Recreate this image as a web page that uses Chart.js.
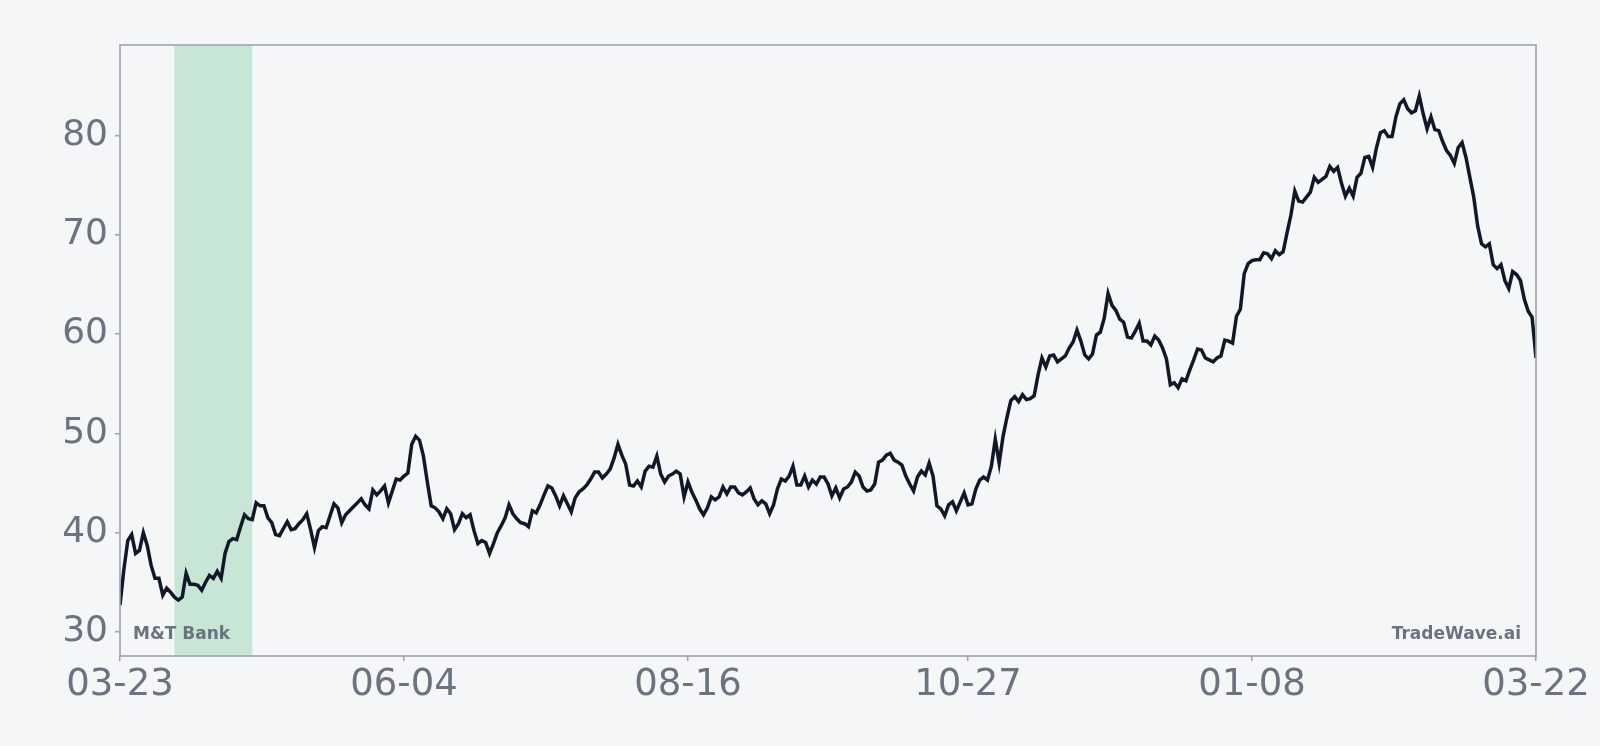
<!DOCTYPE html>
<html>
<head>
<meta charset="utf-8">
<title>M&amp;T Bank</title>
<script src="https://cdn.jsdelivr.net/npm/chart.js@4/dist/chart.umd.min.js"></script>
<style>
    html, body { margin: 0; padding: 0; background: #f4f6f8; }
    #wrap { width: 1600px; height: 746px; position: relative; }
</style>
</head>
<body>
<div id="wrap"><canvas id="price-chart"></canvas></div>
<script>
// 数据
const seriesName = 'M&T Bank';
const brandName = 'TradeWave.ai';
const tickDays = [0, 73, 146, 218, 291, 364];
const tickLabels = ['03-23', '06-04', '08-16', '10-27', '01-08', '03-22'];
const yTicks = [30, 40, 50, 60, 70, 80];
const shadeDays = [14, 34];

// 每日收盘价 (day 0 = 03-23)
const closes = [
    32.7, 36.3, 39.2, 39.8, 37.9, 38.2, 40.0, 38.7, 36.7, 35.4,
    35.4, 33.7, 34.4, 34.0, 33.5, 33.2, 33.5, 35.9, 34.8, 34.8,
    34.7, 34.2, 35.0, 35.7, 35.4, 36.1, 35.4, 37.9, 39.1, 39.4,
    39.3, 40.6, 41.8, 41.4, 41.3, 43.0, 42.7, 42.7, 41.5, 41.0,
    39.8, 39.7, 40.4, 41.1, 40.3, 40.4, 40.9, 41.3, 41.9, 40.3,
    38.5, 40.2, 40.6, 40.5, 41.7, 42.9, 42.5, 41.0, 41.8, 42.2,
    42.6, 43.0, 43.4, 42.8, 42.4, 44.3, 43.8, 44.2, 44.7, 43.0,
    44.2, 45.4, 45.3, 45.7, 46.0, 48.9, 49.7, 49.3, 47.7, 45.1,
    42.7, 42.5, 42.1, 41.4, 42.4, 41.9, 40.3, 40.9, 41.9, 41.5,
    41.8, 40.2, 38.9, 39.2, 39.0, 37.9, 38.9, 40.0, 40.7, 41.5,
    42.8, 41.9, 41.4, 41.0, 40.9, 40.6, 42.2, 42.0, 42.8, 43.8,
    44.7, 44.5, 43.7, 42.7, 43.7, 42.9, 42.1, 43.5, 44.1, 44.4,
    44.8, 45.4, 46.1, 46.1, 45.5, 45.9, 46.4, 47.5, 48.9, 47.8,
    46.9, 44.8, 44.7, 45.2, 44.6, 46.2, 46.7, 46.6, 47.7, 45.9,
    45.1, 45.7, 45.9, 46.2, 45.9, 43.6, 45.1, 44.1, 43.3, 42.4,
    41.8, 42.5, 43.6, 43.3, 43.6, 44.6, 43.9, 44.6, 44.6, 44.0,
    43.8, 44.1, 44.5, 43.4, 42.8, 43.2, 42.9, 41.9, 42.8, 44.4,
    45.4, 45.2, 45.7, 46.7, 44.8, 44.8, 45.7, 44.6, 45.3, 44.9,
    45.6, 45.6, 44.9, 43.7, 44.5, 43.5, 44.4, 44.6, 45.1, 46.1,
    45.7, 44.6, 44.2, 44.3, 44.9, 47.1, 47.3, 47.8, 48.0, 47.3,
    47.1, 46.8, 45.7, 44.9, 44.2, 45.6, 46.2, 45.8, 47.0, 45.7,
    42.7, 42.4, 41.7, 42.8, 43.1, 42.2, 43.1, 44.0, 42.8, 42.9,
    44.4, 45.3, 45.6, 45.3, 46.7, 49.4, 47.0, 49.7, 51.6, 53.3,
    53.7, 53.2, 53.9, 53.4, 53.5, 53.8, 55.9, 57.6, 56.7, 57.8,
    57.9, 57.2, 57.5, 57.8, 58.6, 59.2, 60.4, 59.3, 57.9, 57.5,
    58.0, 59.9, 60.2, 61.6, 64.1, 62.9, 62.4, 61.5, 61.2, 59.7,
    59.6, 60.3, 61.1, 59.3, 59.3, 58.9, 59.8, 59.4, 58.6, 57.5,
    54.9, 55.1, 54.6, 55.5, 55.3, 56.4, 57.4, 58.5, 58.4, 57.6,
    57.4, 57.2, 57.6, 57.8, 59.4, 59.3, 59.1, 61.8, 62.5, 66.1,
    67.1, 67.4, 67.5, 67.5, 68.2, 68.1, 67.6, 68.4, 68.0, 68.3,
    70.2, 72.0, 74.4, 73.4, 73.3, 73.8, 74.3, 75.8, 75.3, 75.6,
    75.9, 76.9, 76.4, 76.8, 75.2, 73.9, 74.7, 73.9, 75.8, 76.2,
    77.8, 77.9, 76.8, 78.8, 80.3, 80.5, 79.9, 79.9, 81.9, 83.2,
    83.6, 82.7, 82.3, 82.5, 84.0, 82.2, 80.7, 81.9, 80.6, 80.5,
    79.4, 78.5, 78.0, 77.2, 78.8, 79.3, 77.8, 75.8, 73.8, 70.9,
    69.1, 68.8, 69.1, 67.0, 66.6, 67.0, 65.4, 64.6, 66.3, 66.0,
    65.4, 63.5, 62.3, 61.7, 57.6
];

// 颜色
const textColor = '#6b7280';
const frameColor = '#9ca3af';
const lineColor = '#111827';
const shadeColor = '#c8e6d5';

// y 轴范围: 上下各留 10%
const dataMin = Math.min(...closes);
const dataMax = Math.max(...closes);
const pad = (dataMax - dataMin) * 0.1;

Chart.defaults.font.family = "'DejaVu Sans', sans-serif";

// 阴影区间 + 边框 + 角标文字
const decorPlugin = {
    id: 'decor',
    beforeDatasetsDraw(chart) {
        const { ctx, chartArea, scales } = chart;
        const x0 = scales.x.getPixelForValue(shadeDays[0]);
        const x1 = scales.x.getPixelForValue(shadeDays[1]);
        ctx.save();
        ctx.fillStyle = shadeColor;
        ctx.fillRect(x0, chartArea.top, x1 - x0, chartArea.bottom - chartArea.top);
        ctx.restore();
    },
    afterDatasetsDraw(chart) {
        const { ctx, chartArea } = chart;
        ctx.save();
        ctx.strokeStyle = frameColor;
        ctx.lineWidth = 1.6;
        ctx.strokeRect(chartArea.left, chartArea.top,
            chartArea.right - chartArea.left, chartArea.bottom - chartArea.top);

        ctx.fillStyle = textColor;
        ctx.font = "bold 17px 'DejaVu Sans', sans-serif";
        ctx.textBaseline = 'alphabetic';
        ctx.textAlign = 'left';
        ctx.fillText(seriesName, chartArea.left + 13, chartArea.bottom - 17);
        ctx.textAlign = 'right';
        ctx.fillText(brandName, chartArea.right - 15, chartArea.bottom - 17);
        ctx.restore();
    }
};

const ctx = document.getElementById('price-chart').getContext('2d');
new Chart(ctx, {
    type: 'line',
    data: {
        datasets: [{
            label: seriesName,
            data: closes.map((v, i) => ({ x: i, y: v })),
            borderColor: lineColor,
            borderWidth: 3.5,
            pointRadius: 0,
            tension: 0,
            fill: false
        }]
    },
    options: {
        responsive: true,
        maintainAspectRatio: false,
        animation: false,
        layout: { padding: { top: 45, right: 64, left: 0, bottom: 0 } },
        plugins: {
            legend: { display: false },
            tooltip: { enabled: false }
        },
        scales: {
            x: {
                type: 'linear',
                min: tickDays[0],
                max: tickDays[tickDays.length - 1],
                afterBuildTicks: s => { s.ticks = tickDays.map(v => ({ value: v })); },
                afterFit: s => { s.height = 90; },
                ticks: {
                    callback: v => tickLabels[tickDays.indexOf(v)],
                    color: textColor,
                    font: { size: 37 },
                    padding: 2,
                    maxRotation: 0,
                    autoSkip: false
                },
                grid: { drawOnChartArea: false, drawTicks: true, tickLength: 5, color: frameColor, lineWidth: 1.5 },
                border: { display: false }
            },
            y: {
                min: dataMin - pad,
                max: dataMax + pad,
                afterBuildTicks: s => { s.ticks = yTicks.map(v => ({ value: v })); },
                afterFit: s => { s.width = 120; },
                ticks: {
                    color: textColor,
                    font: { size: 36 },
                    padding: 7
                },
                grid: { drawOnChartArea: false, drawTicks: true, tickLength: 5, color: frameColor, lineWidth: 1.5 },
                border: { display: false }
            }
        }
    },
    plugins: [decorPlugin]
});
</script>
</body>
</html>
